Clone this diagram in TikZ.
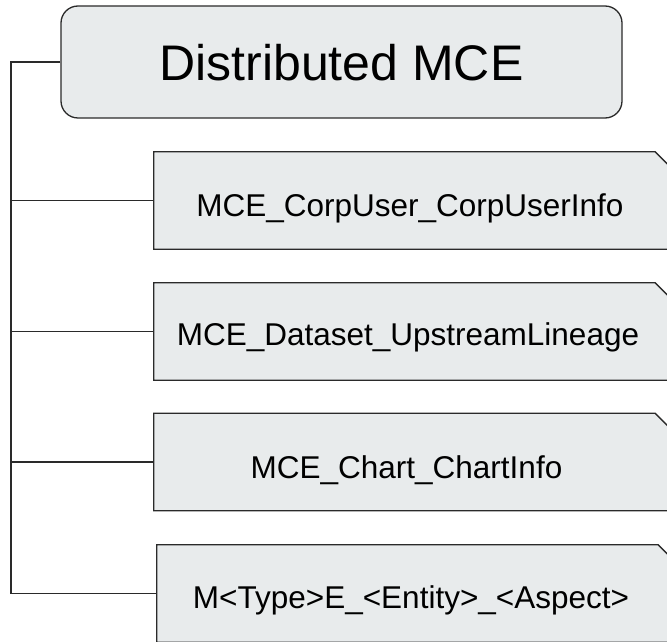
\documentclass[tikz,border=0pt]{standalone}
\usepackage{fontspec}
\setmainfont{Liberation Sans}
\definecolor{boxfill}{HTML}{E8EBEC}
\definecolor{linecol}{HTML}{2A2A2A}
\tikzset{
  rootbox/.style={draw=linecol, fill=boxfill, line width=1.3pt, rounded corners=17pt,
    minimum width=561pt, minimum height=112pt, inner sep=0pt},
  childbox/.style={inner sep=0pt, minimum width=523pt, minimum height=97pt},
  childoutline/.style={draw=linecol, fill=boxfill, line width=1.3pt},
  childtext/.style={font=\fontsize{31.5pt}{36pt}\selectfont, anchor=base, inner sep=0pt},
  titletext/.style={font=\fontsize{50pt}{58pt}\selectfont, anchor=base, inner sep=0pt},
  conn/.style={draw=linecol, line width=1.3pt},
}
\begin{document}
\begin{tikzpicture}[x=1pt,y=1pt]
\useasboundingbox (0,0) rectangle (667,641);
\clip (0,0) rectangle (667,641);
% root
\node[rootbox] (root) at (341.5,579) {};
\node[titletext] (title) at (341.5,560.3) {Distributed MCE};
% children boxes (centres)
\node[childbox] (c1) at (415.5,440.5) {};
\node[childbox] (c2) at (415.5,309.5) {};
\node[childbox] (c3) at (415.5,179) {};
\node[childbox] (c4) at (418.5,47.5) {};
\foreach \c in {c1,c2,c3,c4}{
  \path[childoutline] (\c.north west) -- ([xshift=-22pt]\c.north east) -- ([yshift=-22pt]\c.north east)
     -- (\c.south east) -- (\c.south west) -- cycle;
}
\node[childtext] (t1) at (410,424.3) {MCE\_CorpUser\_CorpUserInfo};
\node[childtext] (t2) at (408,295) {MCE\_Dataset\_UpstreamLineage};
\node[childtext] (t3) at (406.5,162.7) {MCE\_Chart\_ChartInfo};
\node[childtext] (t4) at (411,32.7) {M<Type>E\_<Entity>\_<Aspect>};
% connectors
\coordinate (spine) at (11,0);
\draw[conn] (root.west) -- (root.west -| spine) |- (c4.west);
\foreach \c in {c1,c2,c3}{
  \draw[conn] (\c.west) -- (\c.west -| spine);
}
\end{tikzpicture}
\end{document}
